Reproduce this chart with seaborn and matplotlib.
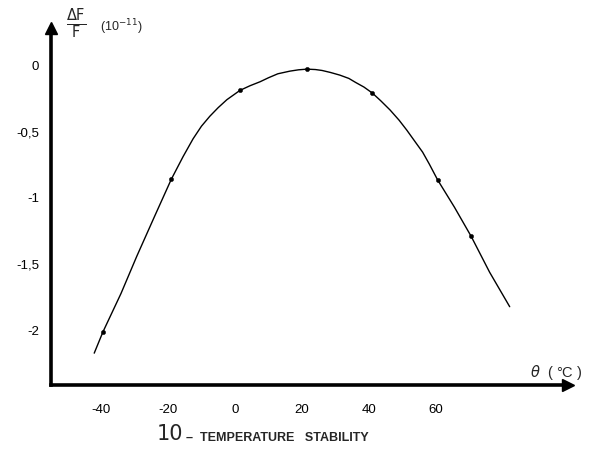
"""
温度安定性のグラフ (ΔF/F vs θ)
"""
import matplotlib
matplotlib.use('Agg')
import matplotlib.pyplot as plt
import seaborn as sns
import pandas as pd

sns.set_style("white")
plt.rcParams['font.family'] = ['Liberation Sans', 'DejaVu Sans']

# 測定点
point_temp = [-39.4, -19, 1.5, 21.5, 41, 60.5, 70.5]
point_dff = [-2.01, -0.86, -0.19, -0.03, -0.21, -0.865, -1.29]

# 曲線
curve_temp = [-42, -39.4, -34, -29.3, -24, -19, -15.5, -12.5, -10, -7.5,
              -5, -2.4, 1.5, 4.5, 7.5, 10, 12.8, 16.4, 19, 21.5, 24, 26,
              28.5, 31.3, 34, 36, 38.5, 41, 43.5, 46.3, 49, 51.3, 54, 56,
              58, 60.5, 65.5, 70.5, 76, 82]
curve_dff = [-2.17, -2.01, -1.72, -1.44, -1.14, -0.86, -0.69, -0.555, -0.46,
             -0.385, -0.32, -0.26, -0.19, -0.155, -0.125, -0.095, -0.065,
             -0.045, -0.035, -0.03, -0.033, -0.04, -0.055, -0.075, -0.1,
             -0.13, -0.165, -0.21, -0.268, -0.338, -0.415, -0.49, -0.585,
             -0.655, -0.745, -0.865, -1.07, -1.29, -1.56, -1.82]

x_ticks = [-40, -20, 0, 20, 40, 60]
y_ticks = [0, -0.5, -1, -1.5, -2]
y_tick_labels = ['0', '-0,5', '-1', '-1,5', '-2']

curve_df = pd.DataFrame({'temp': curve_temp, 'dff': curve_dff})
point_df = pd.DataFrame({'temp': point_temp, 'dff': point_dff})

fig = plt.figure(figsize=(5.98, 4.49), dpi=100)
ax = fig.add_axes([51 / 598, 64 / 449, 517 / 598, 357 / 449])

sns.lineplot(data=curve_df, x='temp', y='dff', sort=False, color='black',
             linewidth=1.0, ax=ax)
sns.scatterplot(data=point_df, x='temp', y='dff', color='black', s=10,
                marker='o', edgecolor='black', ax=ax, zorder=3)

ax.set_xlim(-54.9, 99.4)
ax.set_ylim(-2.41, 0.28)

# 軸
for side in ['top', 'right']:
    ax.spines[side].set_visible(False)
for side in ['left', 'bottom']:
    ax.spines[side].set_linewidth(2.6)
    ax.spines[side].set_color('black')
ax.plot([1.0], [0.0], marker='>', markersize=9, color='black',
        transform=ax.transAxes, clip_on=False)
ax.plot([0.0], [1.0], marker='^', markersize=9, color='black',
        transform=ax.transAxes, clip_on=False)

ax.set_xticks(x_ticks + [70])
ax.set_xticklabels([str(t) for t in x_ticks] + [''])
ax.set_yticks(y_ticks)
ax.set_yticklabels(y_tick_labels)
ax.tick_params(direction='inout', length=7, width=1.3, labelsize=9.5,
               colors='black')
ax.tick_params(axis='x', pad=10)
ax.tick_params(axis='y', pad=5)
ax.set_xlabel('')
ax.set_ylabel('')

# ラベル
fig.text(530 / 598, 1 - 372 / 449, r'$\theta$  ( °C )', fontsize=10.5,
         ha='left', va='center')
fig.text(66 / 598, 1 - 24 / 449, r'$\frac{\Delta\mathrm{F}}{\mathrm{F}}$',
         fontsize=15, ha='left', va='center')
fig.text(100 / 598, 1 - 27 / 449, '(10$^{-11}$)', fontsize=9,
         ha='left', va='center')
fig.text(157 / 598, 1 - 434 / 449, '10', fontsize=15, ha='left',
         va='center', family=['DejaVu Sans'])
fig.text(186 / 598, 1 - 438 / 449, '–  TEMPERATURE   STABILITY', fontsize=9,
         ha='left', va='center', fontweight='bold')

fig.savefig('out.png', dpi=100)
plt.close(fig)
